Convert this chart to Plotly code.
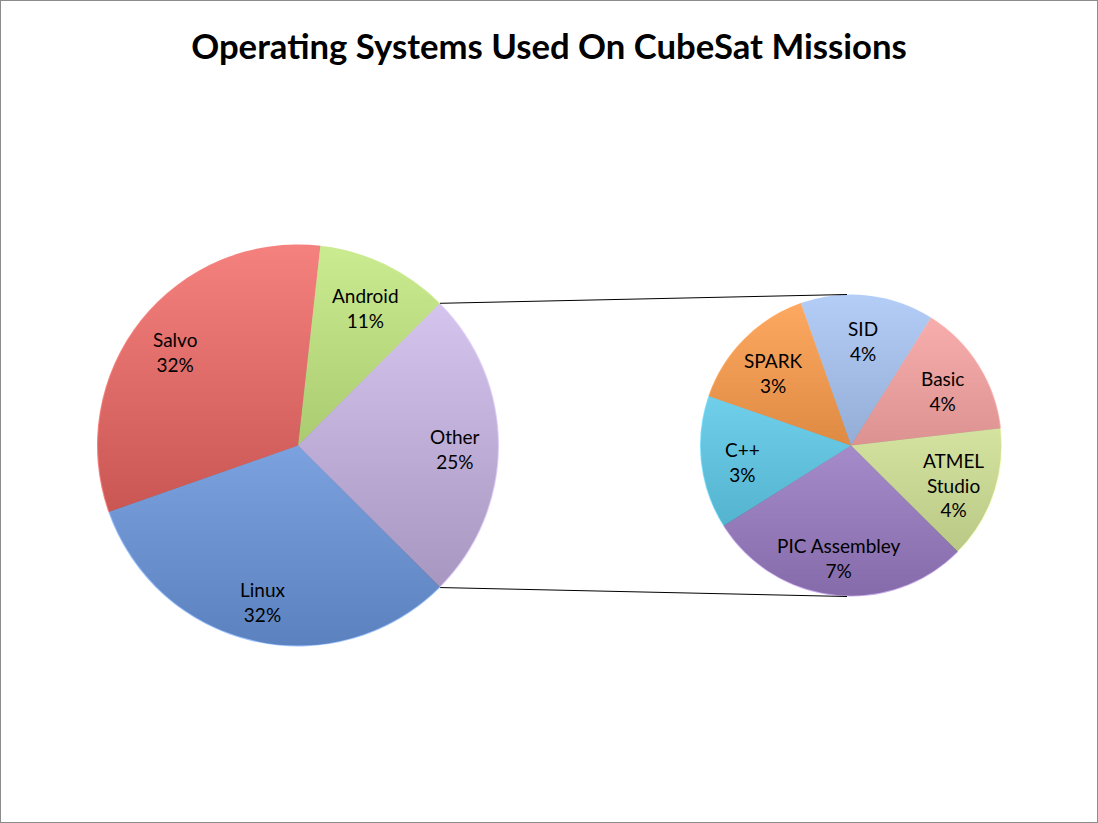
import base64
import math
import plotly.graph_objects as go

# ---- data ----
main_labels = ["Android", "Other", "Linux", "Salvo"]
main_values = [3, 7, 9, 9]
main_pct = ["11%", "25%", "32%", "32%"]

other_labels = ["SID", "Basic", "ATMEL<br>Studio", "PIC Assembley", "C++", "SPARK"]
other_values = [1, 1, 1, 2, 1, 1]
other_pct = ["4%", "4%", "4%", "7%", "3%", "3%"]

title_text = "Operating Systems Used On CubeSat Missions"

# ---- styling / layout ----
W, H = 1098, 823
main_colors = ["rgb(184,227,104)", "rgb(210,187,243)", "rgb(118,172,255)", "rgb(240,82,78)"]
other_colors = ["rgb(151,187,244)", "rgb(251,150,147)", "rgb(236,255,165)",
                "rgb(176,140,225)", "rgb(88,218,255)", "rgb(255,138,40)"]
ALPHA = 0.73


def rgba(c, a):
    return c.replace("rgb(", "rgba(").replace(")", ",%s)" % a)


# pie boxes in pixels (left, top, size)
main_box = (97, 244.5, 402)
other_box = (700, 294.5, 302)
main_rot = 6.4
other_rot = -19.4
main_label_r = 0.78
other_label_r = 0.72


def dom(box):
    l, t, s = box
    return dict(x=[l / W, (l + s) / W], y=[1 - (t + s) / H, 1 - t / H])


font_family = "Lato, 'Open Sans', sans-serif"

fig = go.Figure()
fig.add_trace(go.Pie(
    labels=main_labels, values=main_values, text=main_pct, textinfo="none",
    sort=False, direction="clockwise", rotation=main_rot,
    marker=dict(colors=[rgba(c, ALPHA) for c in main_colors], line=dict(width=0)),
    domain=dom(main_box), hoverinfo="label+text", showlegend=False,
))
fig.add_trace(go.Pie(
    labels=other_labels, values=other_values, text=other_pct, textinfo="none",
    sort=False, direction="clockwise", rotation=other_rot,
    marker=dict(colors=[rgba(c, ALPHA) for c in other_colors], line=dict(width=0)),
    domain=dom(other_box), hoverinfo="label+text", showlegend=False,
))

# gradient backdrop (shows through semi-transparent slices)
svg = ('<svg xmlns="http://www.w3.org/2000/svg" width="200" height="200" viewBox="0 0 200 200">'
       '<defs><linearGradient id="g" x1="0" y1="0" x2="0" y2="1">'
       '<stop offset="0" stop-color="#ffffff"/><stop offset="1" stop-color="#141414"/>'
       '</linearGradient></defs><circle cx="100" cy="100" r="99.5" fill="url(#g)"/></svg>')
src = "data:image/svg+xml;base64," + base64.b64encode(svg.encode()).decode()
images = []
for box in (main_box, other_box):
    l, t, s = box
    images.append(dict(source=src, xref="paper", yref="paper", x=l / W, y=1 - t / H,
                       sizex=s / W, sizey=s / H, xanchor="left", yanchor="top",
                       sizing="stretch", layer="below"))

# slice labels placed along each slice's mid-angle (computed from the data)
annotations = []


def add_labels(labels, values, pcts, box, rot, frac):
    l, t, s = box
    cx, cy, r = l + s / 2, t + s / 2, s / 2
    tot = sum(values)
    cum = 0
    for lab, v, p in zip(labels, values, pcts):
        mid = rot + 360 * (cum + v / 2) / tot
        cum += v
        x = cx + frac * r * math.sin(math.radians(mid))
        y = cy - frac * r * math.cos(math.radians(mid)) + 4
        annotations.append(dict(text="%s<br>%s" % (lab, p), x=x / W, y=1 - y / H,
                                xref="paper", yref="paper", showarrow=False,
                                xanchor="center", yanchor="middle", align="center",
                                font=dict(family=font_family, size=19, color="black")))


add_labels(main_labels, main_values, main_pct, main_box, main_rot, main_label_r)
add_labels(other_labels, other_values, other_pct, other_box, other_rot, other_label_r)

# connector lines from "Other" slice edges to secondary pie top/bottom
tot = sum(main_values)
other_idx = main_labels.index("Other")
a0 = main_rot + 360 * sum(main_values[:other_idx]) / tot
a1 = a0 + 360 * main_values[other_idx] / tot
ml, mt, ms = main_box
mcx, mcy, mr = ml + ms / 2, mt + ms / 2, ms / 2
ol, ot, os_ = other_box
ocx, ocy, orr = ol + os_ / 2, ot + os_ / 2, os_ / 2
shapes = []
for ang, ty in ((a0, ocy - orr), (a1, ocy + orr)):
    px = mcx + mr * math.sin(math.radians(ang))
    py = mcy - mr * math.cos(math.radians(ang))
    shapes.append(dict(type="line", xref="paper", yref="paper",
                       x0=px / W, y0=1 - py / H, x1=(ocx - 4) / W, y1=1 - ty / H,
                       line=dict(color="black", width=1)))
shapes.append(dict(type="rect", xref="paper", yref="paper", x0=0, y0=0, x1=1, y1=1,
                   line=dict(color="#8c8c8c", width=2)))

fig.update_layout(
    width=W, height=H, margin=dict(l=0, r=0, t=0, b=0),
    paper_bgcolor="white", plot_bgcolor="white",
    title=dict(text="<b>%s</b>" % title_text, x=0.5, xanchor="center",
               y=1 - 47 / H, yanchor="middle",
               font=dict(family=font_family, size=34.7, color="black")),
    images=images, shapes=shapes, annotations=annotations, showlegend=False,
)

fig.write_html("out.html")
